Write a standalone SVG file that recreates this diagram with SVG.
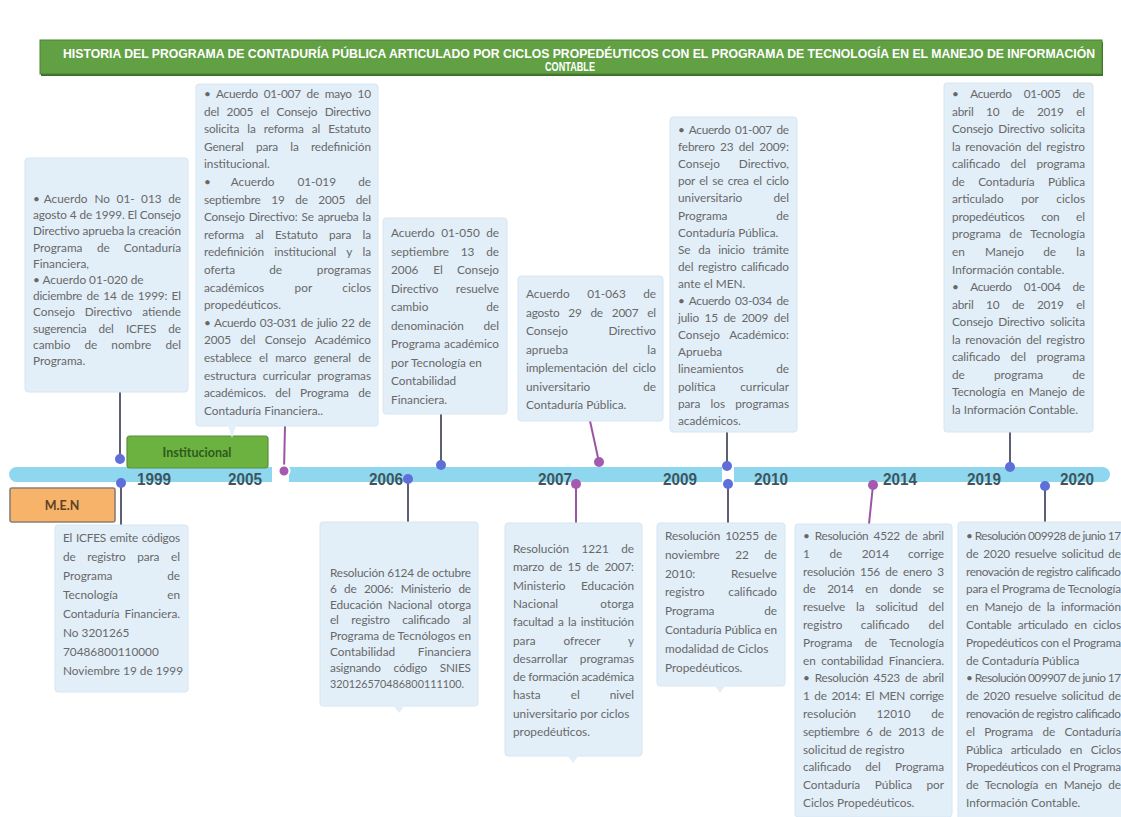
<svg xmlns="http://www.w3.org/2000/svg" width="1121" height="817" viewBox="0 0 1121 817">
<style>
.bg{fill:#ffffff}
.box{fill:#e2eff9;stroke:#d6e6f3;stroke-width:1}
.t{font-family:Lato,"Noto Sans",sans-serif;font-size:11.8px;fill:#686868}
.e{text-anchor:end}
.m{text-anchor:middle}
.yr{font-family:"Liberation Sans",Arial,sans-serif;font-weight:bold;font-size:16px;fill:#3b5660}
.ttl{font-family:"Liberation Sans",Arial,sans-serif;font-weight:bold;font-size:12px;fill:#ffffff}
.cb{stroke:#5d6074;stroke-width:2;fill:none}
.cp{stroke:#9b56a3;stroke-width:2;fill:none}
.db{fill:#5f6fd9}
.dp{fill:#a45aae}
.tail{fill:#e2eff9}
</style>
<rect class="bg" x="0" y="0" width="1121" height="817"/>

<g id="title">
<rect x="41" y="42" width="1062" height="34" fill="#3d6e2a"/>
<rect x="40" y="40" width="1062" height="34" fill="#62a044" stroke="#4a8332" stroke-width="1"/>
<text class="ttl" x="63" y="58" textLength="1032" lengthAdjust="spacingAndGlyphs">HISTORIA DEL PROGRAMA DE CONTADURÍA PÚBLICA ARTICULADO POR CICLOS PROPEDÉUTICOS CON EL PROGRAMA DE TECNOLOGÍA EN EL MANEJO DE INFORMACIÓN</text>
<text class="ttl m" x="570" y="71" textLength="50" lengthAdjust="spacingAndGlyphs">CONTABLE</text>
</g>

<g id="timeline">
<rect x="9" y="467" width="1101" height="15" rx="7.5" fill="#8fd7ef"/>
<rect x="272" y="464" width="17" height="21" fill="#ffffff"/>
<rect x="722" y="464" width="12" height="21" fill="#ffffff"/>
</g>

<g id="connectors">
<line class="cb" x1="120" y1="392" x2="120" y2="459"/>
<line class="cb" x1="121" y1="483" x2="121" y2="525"/>
<line class="cp" x1="285" y1="426" x2="284" y2="470"/>
<line class="cb" x1="408" y1="479" x2="408" y2="522"/>
<line class="cb" x1="441" y1="414" x2="441" y2="465"/>
<line class="cp" x1="590" y1="421" x2="599" y2="462"/>
<line class="cp" x1="576" y1="484" x2="576" y2="523"/>
<line class="cb" x1="727" y1="432" x2="727" y2="466"/>
<line class="cb" x1="728" y1="484" x2="728" y2="523"/>
<line class="cp" x1="873" y1="485" x2="869" y2="524"/>
<line class="cb" x1="1010" y1="432" x2="1010" y2="467"/>
<line class="cb" x1="1045" y1="486" x2="1045" y2="522"/>
<circle class="db" cx="120" cy="459" r="5"/>
<circle class="db" cx="121" cy="483" r="5"/>
<circle class="dp" cx="284" cy="471" r="5.5" stroke="#ffffff" stroke-width="2"/>
<circle class="db" cx="408" cy="479" r="5"/>
<circle class="db" cx="441" cy="465" r="5"/>
<circle class="dp" cx="599" cy="462" r="5"/>
<circle class="dp" cx="576" cy="484" r="5"/>
<circle class="db" cx="727" cy="466" r="5"/>
<circle class="db" cx="728" cy="484" r="5"/>
<circle class="dp" cx="873" cy="485" r="5"/>
<circle class="db" cx="1010" cy="467" r="5"/>
<circle class="db" cx="1045" cy="486" r="5"/>
</g>

<g id="cat-institucional">
<rect x="127" y="436" width="141" height="32" rx="3" fill="#6cb240" stroke="#5a8f3c" stroke-width="1.2"/>
<text x="197" y="457" text-anchor="middle" font-family="Lato,'Noto Sans',sans-serif" font-weight="bold" font-size="12.5" fill="#2f5a1c">Institucional</text>
</g>

<g id="cat-men">
<rect x="10" y="488" width="105" height="34" rx="2" fill="#f8b36b" stroke="#8b7f74" stroke-width="1.6"/>
<text x="62" y="510" text-anchor="middle" font-family="Lato,'Noto Sans',sans-serif" font-weight="bold" font-size="12.5" fill="#5b4325">M.E.N</text>
</g>

<g id="years">
<text class="yr" x="137" y="485" textLength="34" lengthAdjust="spacingAndGlyphs">1999</text>
<text class="yr" x="228" y="485" textLength="34" lengthAdjust="spacingAndGlyphs">2005</text>
<text class="yr" x="369" y="485" textLength="34" lengthAdjust="spacingAndGlyphs">2006</text>
<text class="yr" x="538" y="485" textLength="34" lengthAdjust="spacingAndGlyphs">2007</text>
<text class="yr" x="663" y="485" textLength="34" lengthAdjust="spacingAndGlyphs">2009</text>
<text class="yr" x="754" y="485" textLength="34" lengthAdjust="spacingAndGlyphs">2010</text>
<text class="yr" x="883" y="485" textLength="34" lengthAdjust="spacingAndGlyphs">2014</text>
<text class="yr" x="967" y="485" textLength="34" lengthAdjust="spacingAndGlyphs">2019</text>
<text class="yr" x="1060" y="485" textLength="34" lengthAdjust="spacingAndGlyphs">2020</text>
</g>

<g id="box1999a">
<rect class="box" x="25" y="158" width="163" height="234" rx="3"/>
<text class="t" x="33" y="203">•</text><text class="t" x="43.8" y="203">Acuerdo</text><text class="t" x="94.4" y="203">No</text><text class="t" x="116.6" y="203">01-</text><text class="t" x="141.1" y="203">013</text><text class="t e" x="181" y="203">de</text>
<text class="t" x="33" y="219.2" textLength="148" lengthAdjust="spacing">agosto 4 de 1999. El Consejo</text>
<text class="t" x="33" y="235.4" textLength="148" lengthAdjust="spacing">Directivo aprueba la creación</text>
<text class="t" x="33" y="251.6">Programa</text><text class="t m" x="103.3" y="251.6">de</text><text class="t e" x="181" y="251.6">Contaduría</text>
<text class="t" x="33" y="267.8">Financiera,</text>
<text class="t" x="33" y="284">• Acuerdo 01-020 de</text>
<text class="t" x="33" y="300.2" word-spacing="1.5" textLength="148" lengthAdjust="spacing">diciembre de 14 de 1999: El</text>
<text class="t" x="33" y="316.4">Consejo</text><text class="t m" x="108.5" y="316.4">Directivo</text><text class="t e" x="181" y="316.4">atiende</text>
<text class="t" x="33" y="332.6" word-spacing="9.4" textLength="148" lengthAdjust="spacing">sugerencia del ICFES de</text>
<text class="t" x="33" y="348.8">cambio</text><text class="t" x="84.5" y="348.8">de</text><text class="t" x="111.3" y="348.8">nombre</text><text class="t e" x="181" y="348.8">del</text>
<text class="t" x="33" y="365">Programa.</text>
</g>

<g id="box2005">
<rect class="box" x="196" y="84" width="182" height="342" rx="3"/>
<polygon class="tail" points="228,425 236,425 232,438"/>
<text class="t" x="204" y="98" word-spacing="3.1" textLength="167" lengthAdjust="spacing">• Acuerdo 01-007 de mayo 10</text>
<text class="t" x="204" y="115.6" word-spacing="4.5" textLength="167" lengthAdjust="spacing">del 2005 el Consejo Directivo</text>
<text class="t" x="204" y="133.2" word-spacing="5.1" textLength="167" lengthAdjust="spacing">solicita la reforma al Estatuto</text>
<text class="t" x="204" y="150.8" word-spacing="9.2" textLength="167" lengthAdjust="spacing">General para la redefinición</text>
<text class="t" x="204" y="168.4">institucional.</text>
<text class="t" x="204" y="186">•</text><text class="t" x="230.8" y="186">Acuerdo</text><text class="t" x="297.4" y="186">01-019</text><text class="t e" x="371" y="186">de</text>
<text class="t" x="204" y="203.6" word-spacing="7.7" textLength="167" lengthAdjust="spacing">septiembre 19 de 2005 del</text>
<text class="t" x="204" y="221.2" word-spacing="1.1" textLength="167" lengthAdjust="spacing">Consejo Directivo: Se aprueba la</text>
<text class="t" x="204" y="238.8" word-spacing="8.3" textLength="167" lengthAdjust="spacing">reforma al Estatuto para la</text>
<text class="t" x="204" y="256.4" word-spacing="7.5" textLength="167" lengthAdjust="spacing">redefinición institucional y la</text>
<text class="t" x="204" y="274">oferta</text><text class="t m" x="275.7" y="274">de</text><text class="t e" x="371" y="274">programas</text>
<text class="t" x="204" y="291.6">académicos</text><text class="t m" x="303.4" y="291.6">por</text><text class="t e" x="371" y="291.6">ciclos</text>
<text class="t" x="204" y="309.2">propedéuticos.</text>
<text class="t" x="204" y="326.8" word-spacing="1.2" textLength="167" lengthAdjust="spacing">• Acuerdo 03-031 de julio 22 de</text>
<text class="t" x="204" y="344.4" word-spacing="6.3" textLength="167" lengthAdjust="spacing">2005 del Consejo Académico</text>
<text class="t" x="204" y="362" word-spacing="4.5" textLength="167" lengthAdjust="spacing">establece el marco general de</text>
<text class="t" x="204" y="379.6" word-spacing="3.6" textLength="167" lengthAdjust="spacing">estructura curricular programas</text>
<text class="t" x="204" y="397.2" word-spacing="6.5" textLength="167" lengthAdjust="spacing">académicos. del Programa de</text>
<text class="t" x="204" y="414.8">Contaduría Financiera..</text>
</g>

<g id="box2006a">
<rect class="box" x="383" y="218" width="124" height="196" rx="3"/>
<text class="t" x="391" y="237">Acuerdo</text><text class="t m" x="460.5" y="237">01-050</text><text class="t e" x="499" y="237">de</text>
<text class="t" x="391" y="255.5">septiembre</text><text class="t m" x="467.5" y="255.5">13</text><text class="t e" x="499" y="255.5">de</text>
<text class="t" x="391" y="274">2006</text><text class="t m" x="438" y="274">El</text><text class="t e" x="499" y="274">Consejo</text>
<text class="t" x="391" y="292.5">Directivo</text><text class="t e" x="499" y="292.5">resuelve</text>
<text class="t" x="391" y="311">cambio</text><text class="t e" x="499" y="311">de</text>
<text class="t" x="391" y="329.5">denominación</text><text class="t e" x="499" y="329.5">del</text>
<text class="t" x="391" y="348">Programa</text><text class="t e" x="499" y="348">académico</text>
<text class="t" x="391" y="366.5">por Tecnología en</text>
<text class="t" x="391" y="385">Contabilidad</text>
<text class="t" x="391" y="403.5">Financiera.</text>
</g>

<g id="box2007a">
<rect class="box" x="518" y="276" width="145" height="145" rx="3"/>
<text class="t" x="526" y="298">Acuerdo</text><text class="t m" x="606.5" y="298">01-063</text><text class="t e" x="656" y="298">de</text>
<text class="t" x="526" y="316.5" word-spacing="6" textLength="130" lengthAdjust="spacing">agosto 29 de 2007 el</text>
<text class="t" x="526" y="335">Consejo</text><text class="t e" x="656" y="335">Directivo</text>
<text class="t" x="526" y="353.5">aprueba</text><text class="t e" x="656" y="353.5">la</text>
<text class="t" x="526" y="372" word-spacing="2.1" textLength="130" lengthAdjust="spacing">implementación del ciclo</text>
<text class="t" x="526" y="390.5">universitario</text><text class="t e" x="656" y="390.5">de</text>
<text class="t" x="526" y="409">Contaduría Pública.</text>
</g>

<g id="box2009a">
<rect class="box" x="670" y="117" width="127" height="315" rx="3"/>
<text class="t" x="678" y="134" word-spacing="2" textLength="111" lengthAdjust="spacing">• Acuerdo 01-007 de</text>
<text class="t" x="678" y="151.1" word-spacing="2.4" textLength="111" lengthAdjust="spacing">febrero 23 del 2009:</text>
<text class="t" x="678" y="168.2">Consejo</text><text class="t e" x="789" y="168.2">Directivo,</text>
<text class="t" x="678" y="185.3" word-spacing="1.7" textLength="111" lengthAdjust="spacing">por el se crea el ciclo</text>
<text class="t" x="678" y="202.4">universitario</text><text class="t e" x="789" y="202.4">del</text>
<text class="t" x="678" y="219.5">Programa</text><text class="t e" x="789" y="219.5">de</text>
<text class="t" x="678" y="236.6">Contaduría Pública.</text>
<text class="t" x="678" y="253.7" word-spacing="5" textLength="111" lengthAdjust="spacing">Se da inicio trámite</text>
<text class="t" x="678" y="270.8" word-spacing="1.7" textLength="111" lengthAdjust="spacing">del registro calificado</text>
<text class="t" x="678" y="287.9">ante el MEN.</text>
<text class="t" x="678" y="305" word-spacing="2" textLength="111" lengthAdjust="spacing">• Acuerdo 03-034 de</text>
<text class="t" x="678" y="322.1" word-spacing="2.7" textLength="111" lengthAdjust="spacing">julio 15 de 2009 del</text>
<text class="t" x="678" y="339.2">Consejo</text><text class="t e" x="789" y="339.2">Académico:</text>
<text class="t" x="678" y="356.3">Aprueba</text>
<text class="t" x="678" y="373.4">lineamientos</text><text class="t e" x="789" y="373.4">de</text>
<text class="t" x="678" y="390.5">política</text><text class="t e" x="789" y="390.5">curricular</text>
<text class="t" x="678" y="407.6" word-spacing="7.3" textLength="111" lengthAdjust="spacing">para los programas</text>
<text class="t" x="678" y="424.7">académicos.</text>
</g>

<g id="box2019">
<rect class="box" x="944" y="83" width="149" height="349" rx="3"/>
<text class="t" x="952" y="98" word-spacing="9.3" textLength="133" lengthAdjust="spacing">• Acuerdo 01-005 de</text>
<text class="t" x="952" y="115.6" word-spacing="9.7" textLength="133" lengthAdjust="spacing">abril 10 de 2019 el</text>
<text class="t" x="952" y="133.1" word-spacing="2.4" textLength="133" lengthAdjust="spacing">Consejo Directivo solicita</text>
<text class="t" x="952" y="150.7" word-spacing="1.9" textLength="133" lengthAdjust="spacing">la renovación del registro</text>
<text class="t" x="952" y="168.2" word-spacing="7.5" textLength="133" lengthAdjust="spacing">calificado del programa</text>
<text class="t" x="952" y="185.8" word-spacing="10.5" textLength="133" lengthAdjust="spacing">de Contaduría Pública</text>
<text class="t" x="952" y="203.3">articulado</text><text class="t m" x="1030.1" y="203.3">por</text><text class="t e" x="1085" y="203.3">ciclos</text>
<text class="t" x="952" y="220.9" word-spacing="13.7" textLength="133" lengthAdjust="spacing">propedéuticos con el</text>
<text class="t" x="952" y="238.4" word-spacing="5.4" textLength="133" lengthAdjust="spacing">programa de Tecnología</text>
<text class="t" x="952" y="256">en</text><text class="t" x="984.9" y="256">Manejo</text><text class="t" x="1043.2" y="256">de</text><text class="t e" x="1085" y="256">la</text>
<text class="t" x="952" y="273.5">Información contable.</text>
<text class="t" x="952" y="291.1" word-spacing="9.3" textLength="133" lengthAdjust="spacing">• Acuerdo 01-004 de</text>
<text class="t" x="952" y="308.6" word-spacing="9.7" textLength="133" lengthAdjust="spacing">abril 10 de 2019 el</text>
<text class="t" x="952" y="326.2" word-spacing="2.4" textLength="133" lengthAdjust="spacing">Consejo Directivo solicita</text>
<text class="t" x="952" y="343.7" word-spacing="1.9" textLength="133" lengthAdjust="spacing">la renovación del registro</text>
<text class="t" x="952" y="361.3" word-spacing="7.5" textLength="133" lengthAdjust="spacing">calificado del programa</text>
<text class="t" x="952" y="378.8">de</text><text class="t m" x="1018.5" y="378.8">programa</text><text class="t e" x="1085" y="378.8">de</text>
<text class="t" x="952" y="396.4" word-spacing="2.4" textLength="133" lengthAdjust="spacing">Tecnología en Manejo de</text>
<text class="t" x="952" y="413.9">la Información Contable.</text>
</g>

<g id="box1999b">
<rect class="box" x="55" y="525" width="133" height="167" rx="3"/>
<text class="t" x="63" y="542" word-spacing="0.9" textLength="117" lengthAdjust="spacing">El ICFES emite códigos</text>
<text class="t" x="63" y="561" word-spacing="8.9" textLength="117" lengthAdjust="spacing">de registro para el</text>
<text class="t" x="63" y="580">Programa</text><text class="t e" x="180" y="580">de</text>
<text class="t" x="63" y="599">Tecnología</text><text class="t e" x="180" y="599">en</text>
<text class="t" x="63" y="618" word-spacing="1.8" textLength="117" lengthAdjust="spacing">Contaduría Financiera.</text>
<text class="t" x="63" y="637">No 3201265</text>
<text class="t" x="63" y="656">70486800110000</text>
<text class="t" x="63" y="675">Noviembre 19 de 1999</text>
</g>

<g id="box2006b">
<rect class="box" x="320" y="522" width="158" height="184" rx="3"/>
<polygon class="tail" points="393,705 405,705 399,713"/>
<text class="t" x="330" y="577" textLength="141" lengthAdjust="spacing">Resolución 6124 de octubre</text>
<text class="t" x="330" y="592.8" word-spacing="4.7" textLength="141" lengthAdjust="spacing">6 de 2006: Ministerio de</text>
<text class="t" x="330" y="608.6" word-spacing="2.6" textLength="141" lengthAdjust="spacing">Educación Nacional otorga</text>
<text class="t" x="330" y="624.4" word-spacing="9.7" textLength="141" lengthAdjust="spacing">el registro calificado al</text>
<text class="t" x="330" y="640.2" textLength="141" lengthAdjust="spacing">Programa de Tecnólogos en</text>
<text class="t" x="330" y="656">Contabilidad</text><text class="t e" x="471" y="656">Financiera</text>
<text class="t" x="330" y="671.8" word-spacing="10" textLength="141" lengthAdjust="spacing">asignando código SNIES</text>
<text class="t" x="330" y="687.6" textLength="134" lengthAdjust="spacingAndGlyphs">320126570486800111100.</text>
</g>

<g id="box2007b">
<rect class="box" x="505" y="523" width="137" height="233" rx="3"/>
<polygon class="tail" points="567,755 579,755 573,763"/>
<text class="t" x="513" y="553">Resolución</text><text class="t m" x="595.1" y="553">1221</text><text class="t e" x="634" y="553">de</text>
<text class="t" x="513" y="571.3" word-spacing="2.7" textLength="121" lengthAdjust="spacing">marzo de 15 de 2007:</text>
<text class="t" x="513" y="589.6">Ministerio</text><text class="t e" x="634" y="589.6">Educación</text>
<text class="t" x="513" y="607.9">Nacional</text><text class="t e" x="634" y="607.9">otorga</text>
<text class="t" x="513" y="626.2" word-spacing="1.5" textLength="121" lengthAdjust="spacing">facultad a la institución</text>
<text class="t" x="513" y="644.5">para</text><text class="t m" x="582" y="644.5">ofrecer</text><text class="t e" x="634" y="644.5">y</text>
<text class="t" x="513" y="662.8">desarrollar</text><text class="t e" x="634" y="662.8">programas</text>
<text class="t" x="513" y="681.1" textLength="121" lengthAdjust="spacing">de formación académica</text>
<text class="t" x="513" y="699.4">hasta</text><text class="t m" x="575.2" y="699.4">el</text><text class="t e" x="634" y="699.4">nivel</text>
<text class="t" x="513" y="717.7">universitario por ciclos</text>
<text class="t" x="513" y="736">propedéuticos.</text>
</g>

<g id="box2010">
<rect class="box" x="657" y="523" width="128" height="163" rx="3"/>
<polygon class="tail" points="714,685 726,685 720,693"/>
<text class="t" x="665" y="540" word-spacing="2.3" textLength="112" lengthAdjust="spacing">Resolución 10255 de</text>
<text class="t" x="665" y="558.8">noviembre</text><text class="t m" x="742.1" y="558.8">22</text><text class="t e" x="777" y="558.8">de</text>
<text class="t" x="665" y="577.6">2010:</text><text class="t e" x="777" y="577.6">Resuelve</text>
<text class="t" x="665" y="596.4">registro</text><text class="t e" x="777" y="596.4">calificado</text>
<text class="t" x="665" y="615.2">Programa</text><text class="t e" x="777" y="615.2">de</text>
<text class="t" x="665" y="634" textLength="112" lengthAdjust="spacing">Contaduría Pública en</text>
<text class="t" x="665" y="652.8">modalidad de Ciclos</text>
<text class="t" x="665" y="671.6">Propedéuticos.</text>
</g>

<g id="box2014">
<rect class="box" x="795" y="524" width="157" height="293" rx="3"/>
<text class="t" x="803" y="540" word-spacing="2.4" textLength="141" lengthAdjust="spacing">• Resolución 4522 de abril</text>
<text class="t" x="803" y="557.8">1</text><text class="t" x="829.4" y="557.8">de</text><text class="t" x="861.7" y="557.8">2014</text><text class="t e" x="944" y="557.8">corrige</text>
<text class="t" x="803" y="575.6" word-spacing="2.3" textLength="141" lengthAdjust="spacing">resolución 156 de enero 3</text>
<text class="t" x="803" y="593.4" word-spacing="8.9" textLength="141" lengthAdjust="spacing">de 2014 en donde se</text>
<text class="t" x="803" y="611.2" word-spacing="8" textLength="141" lengthAdjust="spacing">resuelve la solicitud del</text>
<text class="t" x="803" y="629">registro</text><text class="t m" x="885.2" y="629">calificado</text><text class="t e" x="944" y="629">del</text>
<text class="t" x="803" y="646.8" word-spacing="9.2" textLength="141" lengthAdjust="spacing">Programa de Tecnología</text>
<text class="t" x="803" y="664.6" word-spacing="2.6" textLength="141" lengthAdjust="spacing">en contabilidad Financiera.</text>
<text class="t" x="803" y="682.4" word-spacing="2.4" textLength="141" lengthAdjust="spacing">• Resolución 4523 de abril</text>
<text class="t" x="803" y="700.2" word-spacing="2" textLength="141" lengthAdjust="spacing">1 de 2014: El MEN corrige</text>
<text class="t" x="803" y="718">resolución</text><text class="t m" x="893.6" y="718">12010</text><text class="t e" x="944" y="718">de</text>
<text class="t" x="803" y="735.8" word-spacing="3.6" textLength="141" lengthAdjust="spacing">septiembre 6 de 2013 de</text>
<text class="t" x="803" y="753.6">solicitud de registro</text>
<text class="t" x="803" y="771.4" word-spacing="11.3" textLength="141" lengthAdjust="spacing">calificado del Programa</text>
<text class="t" x="803" y="789.2">Contaduría</text><text class="t m" x="893.5" y="789.2">Pública</text><text class="t e" x="944" y="789.2">por</text>
<text class="t" x="803" y="807">Ciclos Propedéuticos.</text>
</g>

<g id="box2020">
<rect class="box" x="958" y="522" width="170" height="300" rx="3"/>
<text class="t" x="966" y="540" textLength="155" lengthAdjust="spacing">• Resolución 009928 de junio 17</text>
<text class="t" x="966" y="557.8" word-spacing="1.8" textLength="155" lengthAdjust="spacing">de 2020 resuelve solicitud de</text>
<text class="t" x="966" y="575.6" textLength="155" lengthAdjust="spacing">renovación de registro calificado</text>
<text class="t" x="966" y="593.4" textLength="155" lengthAdjust="spacing">para el Programa de Tecnología</text>
<text class="t" x="966" y="611.2" word-spacing="3" textLength="155" lengthAdjust="spacing">en Manejo de la información</text>
<text class="t" x="966" y="629" word-spacing="3.2" textLength="155" lengthAdjust="spacing">Contable articulado en ciclos</text>
<text class="t" x="966" y="646.8" textLength="155" lengthAdjust="spacing">Propedéuticos con el Programa</text>
<text class="t" x="966" y="664.6">de Contaduría Pública</text>
<text class="t" x="966" y="682.4" textLength="155" lengthAdjust="spacing">• Resolución 009907 de junio 17</text>
<text class="t" x="966" y="700.2" word-spacing="1.8" textLength="155" lengthAdjust="spacing">de 2020 resuelve solicitud de</text>
<text class="t" x="966" y="718" textLength="155" lengthAdjust="spacing">renovación de registro calificado</text>
<text class="t" x="966" y="735.8" word-spacing="6.4" textLength="155" lengthAdjust="spacing">el Programa de Contaduría</text>
<text class="t" x="966" y="753.6" word-spacing="5.5" textLength="155" lengthAdjust="spacing">Pública articulado en Ciclos</text>
<text class="t" x="966" y="771.4" textLength="155" lengthAdjust="spacing">Propedéuticos con el Programa</text>
<text class="t" x="966" y="789.2" word-spacing="3.6" textLength="155" lengthAdjust="spacing">de Tecnología en Manejo de</text>
<text class="t" x="966" y="807">Información Contable.</text>
</g>
</svg>
